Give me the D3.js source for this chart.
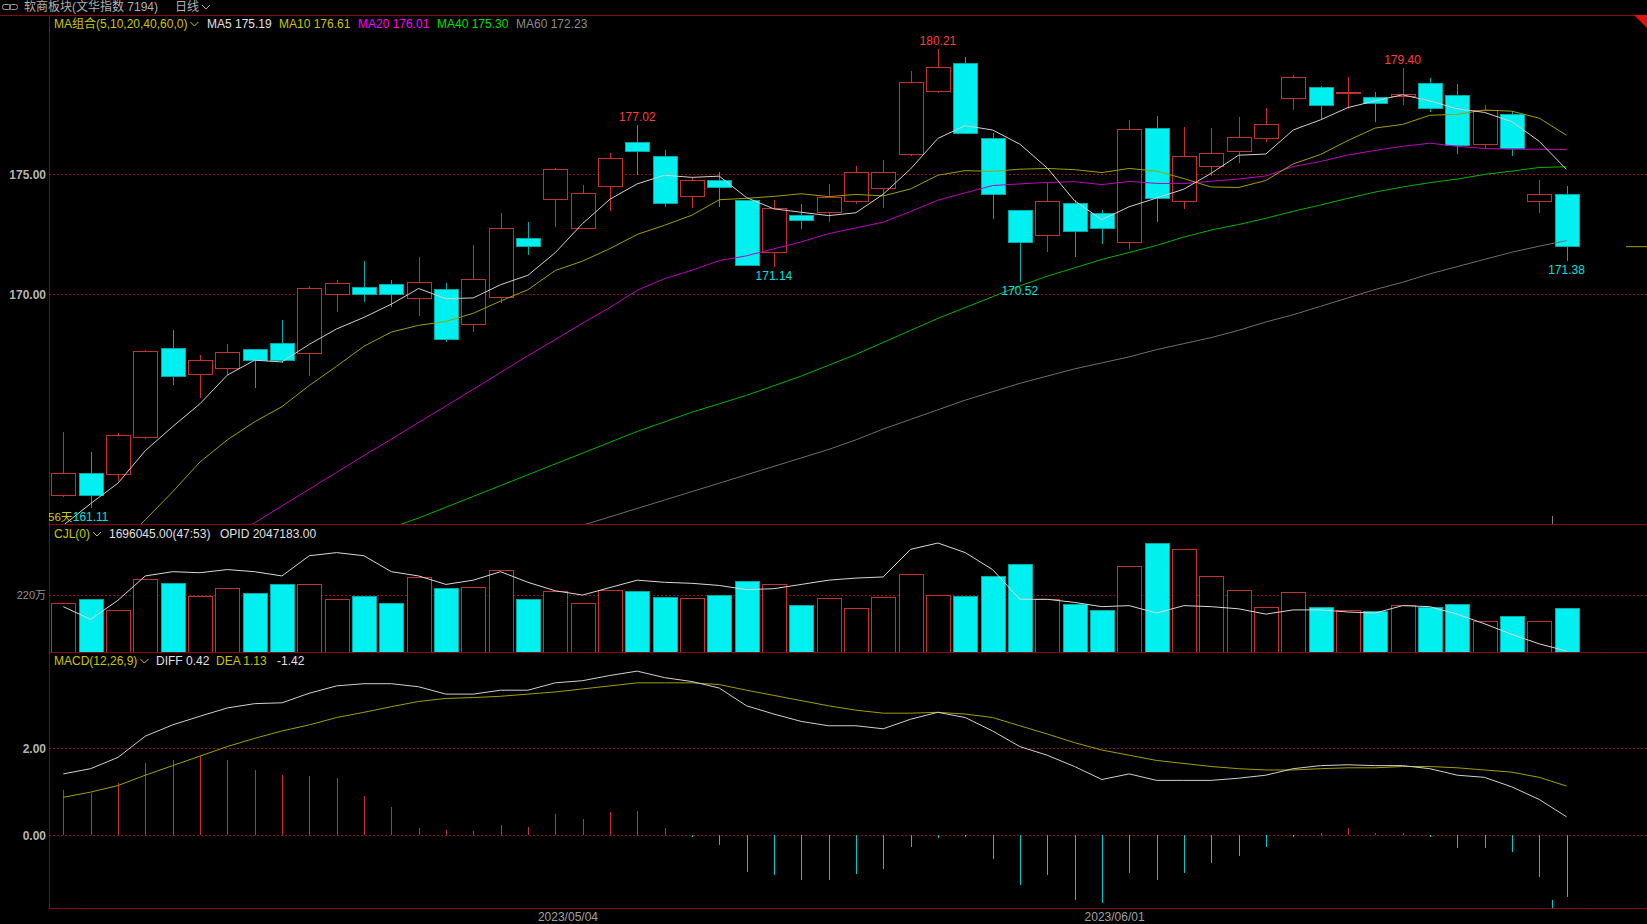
<!DOCTYPE html>
<html>
<head>
<meta charset="utf-8">
<script src="https://cdn.jsdelivr.net/npm/d3@7"></script>
<style>
html, body { margin: 0; background: #000; overflow: hidden; }
svg text { font-family: "Liberation Sans", "Noto Sans CJK SC", sans-serif; }
</style>
</head>
<body>
<svg id="chart" width="1647" height="924"></svg>
<script>
// Trading days shown (56 days)
const dates = [
    "2023/04/06","2023/04/07","2023/04/10","2023/04/11","2023/04/12","2023/04/13","2023/04/14",
    "2023/04/17","2023/04/18","2023/04/19","2023/04/20","2023/04/21","2023/04/24","2023/04/25",
    "2023/04/26","2023/04/27","2023/04/28","2023/05/04","2023/05/05","2023/05/08","2023/05/09",
    "2023/05/10","2023/05/11","2023/05/12","2023/05/15","2023/05/16","2023/05/17","2023/05/18",
    "2023/05/19","2023/05/22","2023/05/23","2023/05/24","2023/05/25","2023/05/26","2023/05/29",
    "2023/05/30","2023/05/31","2023/06/01","2023/06/02","2023/06/05","2023/06/06","2023/06/07",
    "2023/06/08","2023/06/09","2023/06/12","2023/06/13","2023/06/14","2023/06/15","2023/06/16",
    "2023/06/19","2023/06/20","2023/06/21","2023/06/26","2023/06/27","2023/06/28","2023/06/29"
];

// OHLC
const open = [161.65,162.57,162.52,164.06,167.74,166.66,166.93,167.69,167.95,167.55,170.00,170.28,170.42,169.83,
    170.21,168.74,169.88,172.33,173.92,172.74,174.50,176.29,175.73,174.07,174.74,173.89,171.75,173.27,
    173.39,173.85,174.40,175.80,178.41,179.58,176.47,173.49,172.45,173.78,173.37,172.17,176.88,173.86,
    175.33,175.94,176.47,178.13,178.59,178.34,178.20,178.24,178.78,178.28,176.23,177.49,173.85,174.16];
const high = [164.29,163.44,164.23,167.70,168.52,167.47,167.92,167.72,168.93,170.35,170.60,171.39,170.58,171.54,
    170.46,172.05,173.37,172.99,175.25,174.53,175.86,177.02,176.00,174.89,175.10,173.92,173.92,173.75,
    174.58,175.33,175.57,179.29,180.21,179.85,176.69,173.52,174.64,173.92,173.49,177.24,177.41,176.94,
    176.91,177.35,177.73,179.11,178.67,179.02,178.39,179.40,179.00,178.73,177.87,177.62,174.75,174.52];
const low = [161.59,161.11,162.25,164.00,166.25,165.68,166.65,166.12,167.13,166.62,169.28,169.70,169.49,169.10,
    168.00,168.44,169.63,171.65,172.78,172.70,173.45,174.97,173.64,173.57,173.64,171.20,171.14,172.70,
    173.02,173.75,173.57,175.75,178.38,176.65,173.12,170.52,171.77,171.57,172.08,171.90,172.99,173.56,
    174.90,175.47,176.32,177.66,177.24,177.70,177.15,177.87,177.58,175.82,176.04,175.75,173.38,171.38];
const close = [162.54,161.65,164.13,167.63,166.57,167.26,167.60,167.26,167.24,170.25,170.46,170.00,170.00,170.49,
    168.13,170.62,172.74,171.98,175.18,174.17,175.66,175.94,173.78,174.74,174.45,171.21,173.57,173.08,
    174.03,175.06,175.08,178.81,179.43,176.69,174.14,172.15,173.86,172.59,172.74,176.84,173.98,175.72,
    175.86,176.52,177.06,179.00,177.83,178.39,177.94,178.30,177.74,176.19,177.65,176.04,174.16,171.98];

// Moving averages
const ma5 = [160.4,161.3,162.15,163.5,164.50,165.45,166.64,167.26,167.19,167.92,168.56,169.04,169.59,170.24,
    169.82,169.85,170.40,170.79,171.73,172.94,173.95,174.59,174.95,174.86,174.91,174.02,173.55,173.41,
    173.27,173.39,174.16,175.21,176.48,177.01,176.83,176.24,175.25,173.89,173.10,173.64,174.00,174.37,
    175.03,175.78,175.83,176.83,177.25,177.76,178.04,178.29,178.04,177.71,177.56,177.18,176.36,175.19];
const ma10 = [158.0,158.7,159.5,160.63,161.79,163.03,163.95,164.70,165.33,166.21,167.01,167.84,168.43,168.71,
    168.87,169.21,169.72,170.19,170.99,171.38,171.90,172.49,172.87,173.29,173.93,173.99,174.07,174.18,
    174.06,174.15,174.09,174.38,174.95,175.14,175.11,175.20,175.23,175.18,175.06,175.23,175.12,174.81,
    174.46,174.44,174.73,175.42,175.81,176.39,176.91,177.06,177.44,177.48,177.66,177.61,177.32,176.61];
const ma20 = [155.6,156.3,157.0,157.7,158.4,159.1,159.8,160.5,161.2,161.9,162.6,163.3,163.98,164.67,
    165.36,166.05,166.75,167.45,168.12,168.80,169.45,170.17,170.65,171.00,171.40,171.60,171.89,172.18,
    172.52,172.76,173.00,173.44,173.91,174.22,174.52,174.59,174.65,174.68,174.56,174.69,174.61,174.60,
    174.70,174.79,174.92,175.31,175.52,175.79,175.98,176.15,176.28,176.15,176.06,176.03,176.03,176.01];
const ma40 = [155.5,155.9,156.3,156.7,157.1,157.5,157.9,158.3,158.7,159.1,159.5,159.9,160.3,160.7,
    161.15,161.6,162.05,162.5,162.95,163.4,163.85,164.3,164.7,165.1,165.45,165.8,166.2,166.6,
    167.05,167.5,168.0,168.5,169.0,169.45,169.9,170.35,170.75,171.1,171.45,171.74,172.03,172.38,
    172.67,172.90,173.16,173.45,173.71,173.99,174.25,174.46,174.64,174.79,174.98,175.12,175.27,175.30];
const ma60 = [153.75,154.1,154.45,154.8,155.15,155.5,155.85,156.2,156.55,156.9,157.25,157.6,157.95,158.3,
    158.65,159.0,159.35,159.7,160.05,160.4,160.75,161.1,161.45,161.8,162.15,162.5,162.85,163.2,
    163.55,163.95,164.4,164.8,165.2,165.6,165.95,166.3,166.6,166.9,167.15,167.4,167.7,167.95,
    168.2,168.5,168.85,169.15,169.5,169.85,170.2,170.5,170.85,171.15,171.45,171.75,172.0,172.23];

// Volume (万) and OPID line
const volume = [189,201,161,279,266,214,246,226,262,262,201,214,189,287,246,250,315,201,234,189,238,234,210,206,
    218,274,262,181,206,169,210,299,218,214,291,339,201,185,161,331,420,396,291,238,173,230,173,161,
    157,181,173,185,117,137,117,169.6];
const opid = [248.6,236.0,254.9,279.0,283.2,282.2,285.3,283.2,279.0,299.0,302.1,299.0,283.2,279.0,270.6,274.8,
    283.2,272.7,264.3,260.1,267.5,274.8,272.7,271.7,269.6,265.4,266.4,270.6,274.8,276.9,278.0,305.3,
    311.6,302.1,285.3,255.9,255.9,252.8,248.6,249.6,242.3,249.6,248.6,246.5,241.2,245.4,245.4,243.3,
    242.3,249.6,248.6,241.2,231.7,221.2,211.8,204.72];

// MACD(12,26,9)
const diff = [1.41,1.53,1.79,2.28,2.54,2.74,2.93,3.03,3.05,3.27,3.44,3.49,3.49,3.42,3.25,3.25,3.34,3.34,3.51,3.56,
    3.68,3.78,3.63,3.54,3.39,2.98,2.79,2.62,2.52,2.52,2.45,2.67,2.83,2.71,2.40,2.04,1.84,1.58,1.28,1.41,
    1.26,1.26,1.26,1.31,1.38,1.53,1.60,1.62,1.60,1.60,1.53,1.38,1.33,1.11,0.82,0.42];
const dea = [0.87,0.99,1.14,1.38,1.60,1.82,2.04,2.23,2.40,2.54,2.71,2.83,2.96,3.08,3.15,3.17,3.20,3.25,3.30,3.37,
    3.44,3.51,3.51,3.51,3.47,3.34,3.22,3.10,2.98,2.88,2.81,2.81,2.83,2.79,2.71,2.52,2.33,2.13,1.96,1.84,
    1.72,1.65,1.58,1.53,1.50,1.50,1.53,1.55,1.55,1.58,1.58,1.55,1.50,1.45,1.33,1.13];
const macd = [1.04,0.97,1.21,1.65,1.74,1.82,1.74,1.50,1.38,1.36,1.31,0.90,0.65,0.17,0.12,0.10,0.24,0.19,0.48,0.36,
    0.53,0.56,0.17,-0.05,-0.24,-0.85,-0.92,-1.04,-1.04,-0.90,-0.78,-0.27,-0.07,-0.05,-0.56,-1.16,-0.92,-1.50,
    -1.58,-0.87,-1.04,-0.87,-0.65,-0.48,-0.27,-0.05,0.05,0.15,0.05,0.05,-0.05,-0.29,-0.31,-0.39,-0.97,-1.42];

// Axis ticks and labels
const priceTicks = [170, 175];
const volTicks = [220];
const macdTicks = [0, 2];
const dateTicks = ["2023/05/04", "2023/06/01"];
const peakIdx = [21, 32, 49];
const troughIdx = [1, 26, 35, 55];

// Layout
const W = 1647;
const left = 49;
const mainTop = 15, mainBottom = 524, volBottom = 652, macdBottom = 908;
const RED = "#c4302b", CYAN = "#00f0f0", CYAN_EDGE = "#00a8a8", FRAME = "#8a0a0a";

const svg = d3.select("#chart");
svg.append("rect").attr("width", W).attr("height", 924).attr("fill", "#000");

const x = d3.scalePoint().domain(dates).range([63.3, 1566.5]);
const bodyW = 24;

const yPrice = d3.scaleLinear().domain([170, 175]).range([294.3, 174]);
const yVol = d3.scaleLinear().domain([0, 220]).range([volBottom, 595]);
const yOpid = d3.scaleLinear().domain(d3.extent(opid)).range([651, 543]);
const yMacd = d3.scaleLinear().domain([0, 2]).range([835, 748.3]);

const idx = d3.range(dates.length);
const isUp = i => close[i] >= open[i];

// Clip regions for each panel
const defs = svg.append("defs");
defs.append("clipPath").attr("id", "clipMain").append("rect")
    .attr("x", left).attr("y", mainTop).attr("width", W - left).attr("height", mainBottom - mainTop);
defs.append("clipPath").attr("id", "clipVol").append("rect")
    .attr("x", left).attr("y", mainBottom).attr("width", W - left).attr("height", volBottom - mainBottom);
defs.append("clipPath").attr("id", "clipMacd").append("rect")
    .attr("x", left).attr("y", volBottom).attr("width", W - left).attr("height", macdBottom - volBottom);

// Dotted grid lines
function grid(ys) {
    svg.selectAll(null).data(ys).enter().append("line")
        .attr("x1", left).attr("x2", W)
        .attr("y1", d => Math.round(d) + 0.5).attr("y2", d => Math.round(d) + 0.5)
        .attr("stroke", "#8a1010").attr("stroke-dasharray", "2,2");
}
grid(priceTicks.map(yPrice));
grid(volTicks.map(yVol));
grid(macdTicks.map(yMacd));

// Panel frame
const frame = svg.append("g").attr("stroke", FRAME).attr("shape-rendering", "crispEdges");
frame.append("line").attr("x1", 0).attr("x2", W).attr("y1", mainTop).attr("y2", mainTop);
[mainBottom, volBottom, macdBottom].forEach(y => {
    frame.append("line").attr("x1", left).attr("x2", W).attr("y1", y).attr("y2", y);
});
frame.append("line").attr("x1", left).attr("x2", left).attr("y1", mainTop).attr("y2", macdBottom);
svg.append("path").attr("d", "M1634,15L1647,15L1647,28Z").attr("fill", "#e01010");

// Y axis labels
const axisText = svg.append("g").attr("text-anchor", "end").attr("fill", "#b4b4b4");
priceTicks.forEach(t => {
    axisText.append("text").attr("x", 46).attr("y", yPrice(t) + 4.5)
        .attr("font-size", 12).attr("font-weight", "bold").text(t.toFixed(2));
});
volTicks.forEach(t => {
    axisText.append("text").attr("x", 46).attr("y", yVol(t) + 4)
        .attr("font-size", 11).attr("fill", "#909090").text(t + "万");
});
macdTicks.forEach(t => {
    axisText.append("text").attr("x", 46).attr("y", yMacd(t) + 4.5)
        .attr("font-size", 12).attr("font-weight", "bold").text(t.toFixed(2));
});

// Date labels
svg.selectAll(".date").data(dateTicks).enter().append("text")
    .attr("x", d => x(d) + 10).attr("y", 921)
    .attr("font-size", 12).attr("fill", "#a0a0a0").text(d => d);

// Candles
const main = svg.append("g").attr("clip-path", "url(#clipMain)");
const candles = main.selectAll(".candle").data(idx).enter().append("g")
    .attr("shape-rendering", "crispEdges");

candles.append("line")
    .attr("x1", i => Math.round(x(dates[i])) + 0.5).attr("x2", i => Math.round(x(dates[i])) + 0.5)
    .attr("y1", i => yPrice(high[i])).attr("y2", i => yPrice(low[i]))
    .attr("stroke", i => isUp(i) ? RED : CYAN_EDGE);

candles.append("rect")
    .attr("x", i => Math.round(x(dates[i]) - bodyW / 2) + 0.5)
    .attr("y", i => yPrice(Math.max(open[i], close[i])))
    .attr("width", bodyW)
    .attr("height", i => Math.max(1, Math.abs(yPrice(open[i]) - yPrice(close[i]))))
    .attr("fill", i => isUp(i) ? "#000" : CYAN)
    .attr("stroke", i => isUp(i) ? RED : CYAN_EDGE);

// MA lines
const maLine = d3.line().x((d, i) => x(dates[i])).y(d => yPrice(d));
[[ma60, "#6e6e6e"], [ma40, "#00b400"], [ma20, "#c000c0"], [ma10, "#a0a000"], [ma5, "#d0d0d0"]].forEach(([s, c]) => {
    main.append("path").attr("d", maLine(s)).attr("fill", "none").attr("stroke", c).attr("stroke-width", 1);
});

// High / low marks
peakIdx.forEach(i => {
    main.append("text").attr("x", x(dates[i])).attr("y", yPrice(high[i]) - 4)
        .attr("text-anchor", "middle").attr("font-size", 12).attr("fill", "#ff3c3c")
        .text(high[i].toFixed(2));
});
troughIdx.forEach(i => {
    main.append("text").attr("x", x(dates[i])).attr("y", yPrice(low[i]) + 13)
        .attr("text-anchor", "middle").attr("font-size", 12).attr("fill", "#00e0e0")
        .text(low[i].toFixed(2));
});
main.append("text").attr("x", 48).attr("y", 521).attr("font-size", 11.5).attr("fill", "#d0d000").text("56天");

// last price marker on the right edge
svg.append("line").attr("x1", 1626).attr("x2", W)
    .attr("y1", yPrice(close[55])).attr("y2", yPrice(close[55])).attr("stroke", "#a0a000");
svg.append("line").attr("x1", 1552.5).attr("x2", 1552.5).attr("y1", 516).attr("y2", 524).attr("stroke", "#808080");

// Volume panel
const vol = svg.append("g").attr("clip-path", "url(#clipVol)");
vol.selectAll(".vbar").data(idx).enter().append("rect")
    .attr("shape-rendering", "crispEdges")
    .attr("x", i => Math.round(x(dates[i]) - bodyW / 2) + 0.5)
    .attr("y", i => yVol(volume[i]))
    .attr("width", bodyW)
    .attr("height", i => volBottom - yVol(volume[i]))
    .attr("fill", i => isUp(i) ? "#000" : CYAN)
    .attr("stroke", i => isUp(i) ? RED : CYAN_EDGE);
vol.append("path")
    .attr("d", d3.line().x((d, i) => x(dates[i])).y(d => yOpid(d))(opid))
    .attr("fill", "none").attr("stroke", "#d8d8d8");

// MACD panel
const mac = svg.append("g").attr("clip-path", "url(#clipMacd)");
mac.selectAll(".mbar").data(idx).enter().append("line")
    .attr("shape-rendering", "crispEdges")
    .attr("x1", i => Math.round(x(dates[i])) + 0.5).attr("x2", i => Math.round(x(dates[i])) + 0.5)
    .attr("y1", yMacd(0)).attr("y2", i => yMacd(macd[i]))
    .attr("stroke", i => macd[i] >= 0 ? RED : "#00c8c8").attr("stroke-width", 1.5);
const macdLine = d3.line().x((d, i) => x(dates[i])).y(d => yMacd(d));
mac.append("path").attr("d", macdLine(dea)).attr("fill", "none").attr("stroke", "#a0a000");
mac.append("path").attr("d", macdLine(diff)).attr("fill", "none").attr("stroke", "#d0d0d0");
svg.append("line").attr("x1", 1552.5).attr("x2", 1552.5).attr("y1", 900).attr("y2", 908).attr("stroke", "#00c8c8");

// Legends: a row of coloured text pieces with optional drop-down chevron
function legend(y, items) {
    items.forEach(it => {
        const t = svg.append("text").attr("x", it.x).attr("y", y)
            .attr("font-size", 12).attr("fill", it.color).text(it.text);
        if (it.chevron) {
            const cx = it.x + t.node().getComputedTextLength() + 3;
            svg.append("path").attr("d", `M${cx},${y - 6}L${cx + 4},${y - 2}L${cx + 8},${y - 6}`)
                .attr("fill", "none").attr("stroke", it.color);
        }
    });
}

// Header row
svg.append("rect").attr("x", 2.5).attr("y", 4.5).attr("width", 8).attr("height", 5).attr("rx", 2)
    .attr("fill", "none").attr("stroke", "#a0a0a0");
svg.append("rect").attr("x", 9.5).attr("y", 4.5).attr("width", 8).attr("height", 5).attr("rx", 2)
    .attr("fill", "none").attr("stroke", "#a0a0a0");
legend(11, [
    { x: 24, text: "软商板块(文华指数 7194)", color: "#b0b0b0" },
    { x: 175, text: "日线", color: "#b0b0b0", chevron: true }
]);

legend(28, [
    { x: 54, text: "MA组合(5,10,20,40,60,0)", color: "#c8c800", chevron: true },
    { x: 207, text: "MA5 " + ma5[55].toFixed(2), color: "#e0e0e0" },
    { x: 279, text: "MA10 " + ma10[55].toFixed(2), color: "#c8c800" },
    { x: 358, text: "MA20 " + ma20[55].toFixed(2), color: "#ff00ff" },
    { x: 437, text: "MA40 " + ma40[55].toFixed(2), color: "#00e000" },
    { x: 516, text: "MA60 " + ma60[55].toFixed(2), color: "#8c8c8c" }
]);

legend(538, [
    { x: 54, text: "CJL(0)", color: "#c8c800", chevron: true },
    { x: 109, text: "1696045.00(47:53)", color: "#e0e0e0" },
    { x: 220, text: "OPID 2047183.00", color: "#e0e0e0" }
]);

legend(665, [
    { x: 54, text: "MACD(12,26,9)", color: "#c8c800", chevron: true },
    { x: 156, text: "DIFF " + diff[55].toFixed(2), color: "#e0e0e0" },
    { x: 216, text: "DEA " + dea[55].toFixed(2), color: "#c8c800" },
    { x: 277, text: macd[55].toFixed(2), color: "#e0e0e0" }
]);
</script>
</body>
</html>
